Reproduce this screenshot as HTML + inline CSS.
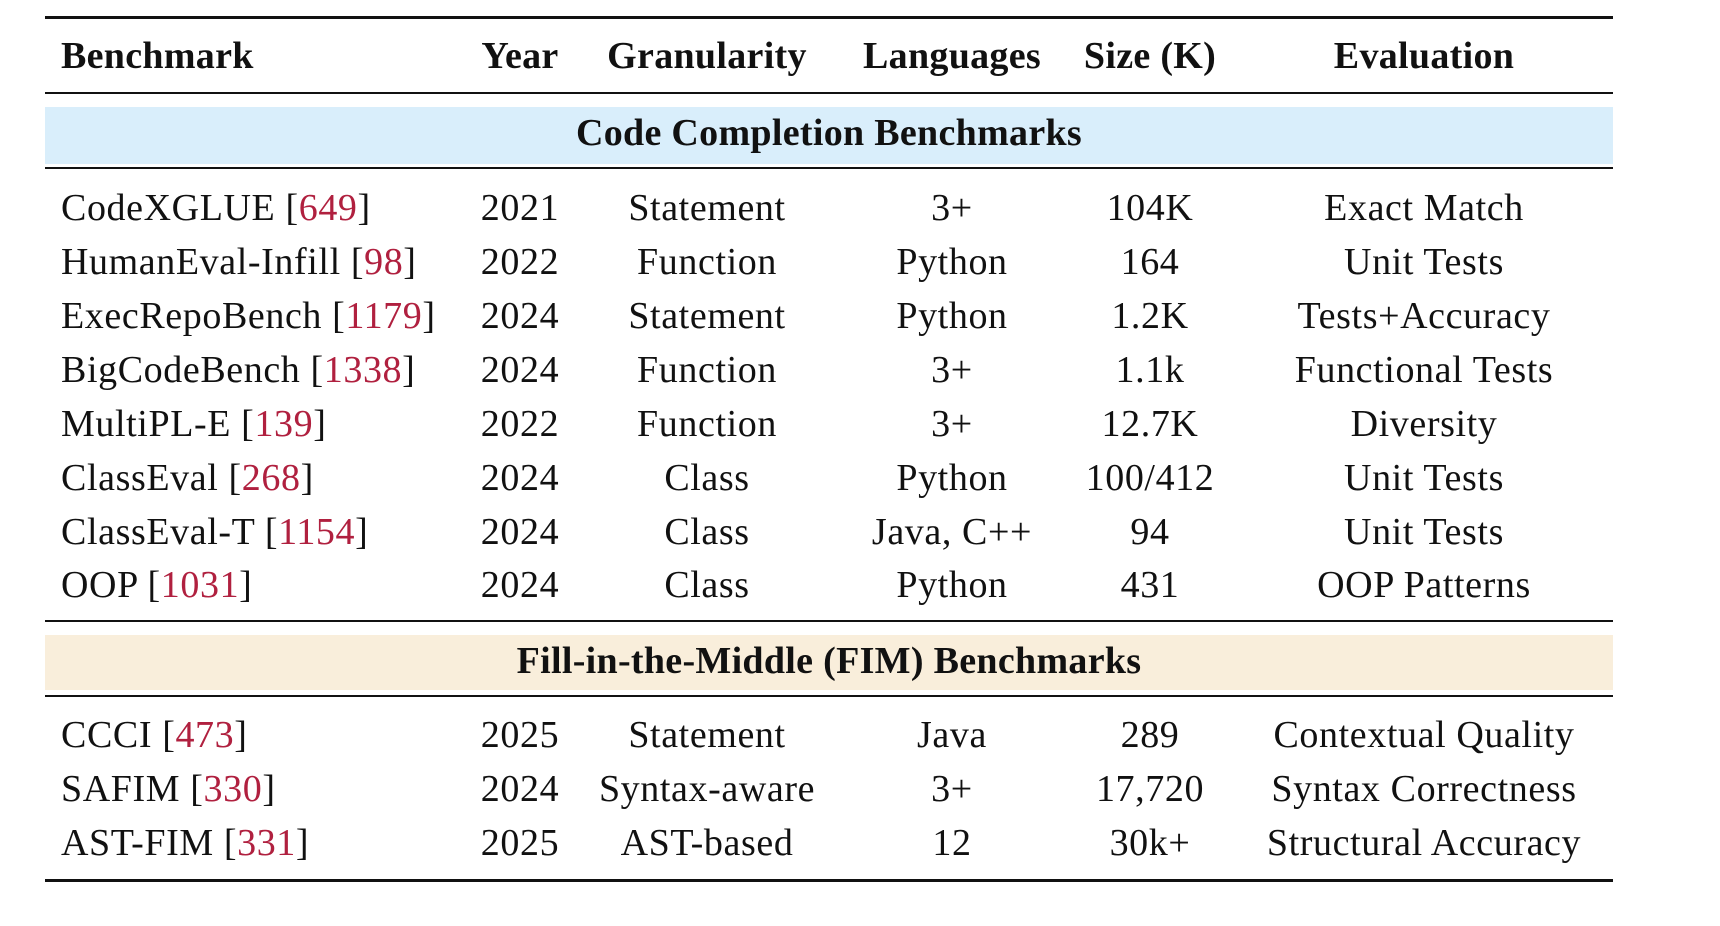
<!DOCTYPE html>
<html><head><meta charset="utf-8"><style>
body{margin:0;width:1720px;height:926px;background:#fff;position:relative;overflow:hidden;font-family:"Liberation Serif",serif;color:#111;}
.r{position:absolute;left:45px;width:1568px;background:#111;}
.band{position:absolute;left:45px;width:1568px;}
.t{position:absolute;font-size:38px;letter-spacing:0.6px;white-space:nowrap;transform:translate(-50%,-50%);line-height:1;}
.l{position:absolute;font-size:38px;letter-spacing:0.6px;white-space:nowrap;transform:translateY(-50%);line-height:1;left:61px;}
.b{font-weight:bold;letter-spacing:0.3px;}
.c{color:#b0203f;}
</style></head><body>
<div class="r" style="top:16px;height:3px"></div>
<div class="r" style="top:92px;height:2px"></div>
<div class="band" style="top:107px;height:57px;background:#d9eefb"></div>
<div class="r" style="top:167px;height:2px"></div>
<div class="r" style="top:620px;height:2px"></div>
<div class="band" style="top:635px;height:55px;background:#f9eedb"></div>
<div class="r" style="top:695px;height:2px"></div>
<div class="r" style="top:879px;height:3px"></div>

<div class="l b" style="top:56px">Benchmark</div>
<div class="t b" style="left:520px;top:56px">Year</div>
<div class="t b" style="left:707px;top:56px">Granularity</div>
<div class="t b" style="left:952px;top:56px">Languages</div>
<div class="t b" style="left:1150px;top:56px">Size (K)</div>
<div class="t b" style="left:1424px;top:56px">Evaluation</div>

<div class="t b" style="left:829px;top:133px">Code Completion Benchmarks</div>
<div class="t b" style="left:829px;top:661px">Fill-in-the-Middle (FIM) Benchmarks</div>

<div class="l" style="top:208px">CodeXGLUE [<span class="c">649</span>]</div>
<div class="t" style="left:520px;top:208px">2021</div><div class="t" style="left:707px;top:208px">Statement</div><div class="t" style="left:952px;top:208px">3+</div><div class="t" style="left:1150px;top:208px">104K</div><div class="t" style="left:1424px;top:208px">Exact Match</div>

<div class="l" style="top:262px">HumanEval-Infill [<span class="c">98</span>]</div>
<div class="t" style="left:520px;top:262px">2022</div><div class="t" style="left:707px;top:262px">Function</div><div class="t" style="left:952px;top:262px">Python</div><div class="t" style="left:1150px;top:262px">164</div><div class="t" style="left:1424px;top:262px">Unit Tests</div>

<div class="l" style="top:316px">ExecRepoBench [<span class="c">1179</span>]</div>
<div class="t" style="left:520px;top:316px">2024</div><div class="t" style="left:707px;top:316px">Statement</div><div class="t" style="left:952px;top:316px">Python</div><div class="t" style="left:1150px;top:316px">1.2K</div><div class="t" style="left:1424px;top:316px">Tests+Accuracy</div>

<div class="l" style="top:370px">BigCodeBench [<span class="c">1338</span>]</div>
<div class="t" style="left:520px;top:370px">2024</div><div class="t" style="left:707px;top:370px">Function</div><div class="t" style="left:952px;top:370px">3+</div><div class="t" style="left:1150px;top:370px">1.1k</div><div class="t" style="left:1424px;top:370px">Functional Tests</div>

<div class="l" style="top:424px">MultiPL-E [<span class="c">139</span>]</div>
<div class="t" style="left:520px;top:424px">2022</div><div class="t" style="left:707px;top:424px">Function</div><div class="t" style="left:952px;top:424px">3+</div><div class="t" style="left:1150px;top:424px">12.7K</div><div class="t" style="left:1424px;top:424px">Diversity</div>

<div class="l" style="top:478px">ClassEval [<span class="c">268</span>]</div>
<div class="t" style="left:520px;top:478px">2024</div><div class="t" style="left:707px;top:478px">Class</div><div class="t" style="left:952px;top:478px">Python</div><div class="t" style="left:1150px;top:478px">100/412</div><div class="t" style="left:1424px;top:478px">Unit Tests</div>

<div class="l" style="top:532px">ClassEval-T [<span class="c">1154</span>]</div>
<div class="t" style="left:520px;top:532px">2024</div><div class="t" style="left:707px;top:532px">Class</div><div class="t" style="left:952px;top:532px">Java, C++</div><div class="t" style="left:1150px;top:532px">94</div><div class="t" style="left:1424px;top:532px">Unit Tests</div>

<div class="l" style="top:585px">OOP [<span class="c">1031</span>]</div>
<div class="t" style="left:520px;top:585px">2024</div><div class="t" style="left:707px;top:585px">Class</div><div class="t" style="left:952px;top:585px">Python</div><div class="t" style="left:1150px;top:585px">431</div><div class="t" style="left:1424px;top:585px">OOP Patterns</div>

<div class="l" style="top:735px">CCCI [<span class="c">473</span>]</div>
<div class="t" style="left:520px;top:735px">2025</div><div class="t" style="left:707px;top:735px">Statement</div><div class="t" style="left:952px;top:735px">Java</div><div class="t" style="left:1150px;top:735px">289</div><div class="t" style="left:1424px;top:735px">Contextual Quality</div>

<div class="l" style="top:789px">SAFIM [<span class="c">330</span>]</div>
<div class="t" style="left:520px;top:789px">2024</div><div class="t" style="left:707px;top:789px">Syntax-aware</div><div class="t" style="left:952px;top:789px">3+</div><div class="t" style="left:1150px;top:789px">17,720</div><div class="t" style="left:1424px;top:789px">Syntax Correctness</div>

<div class="l" style="top:843px">AST-FIM [<span class="c">331</span>]</div>
<div class="t" style="left:520px;top:843px">2025</div><div class="t" style="left:707px;top:843px">AST-based</div><div class="t" style="left:952px;top:843px">12</div><div class="t" style="left:1150px;top:843px">30k+</div><div class="t" style="left:1424px;top:843px">Structural Accuracy</div>
</body></html>
